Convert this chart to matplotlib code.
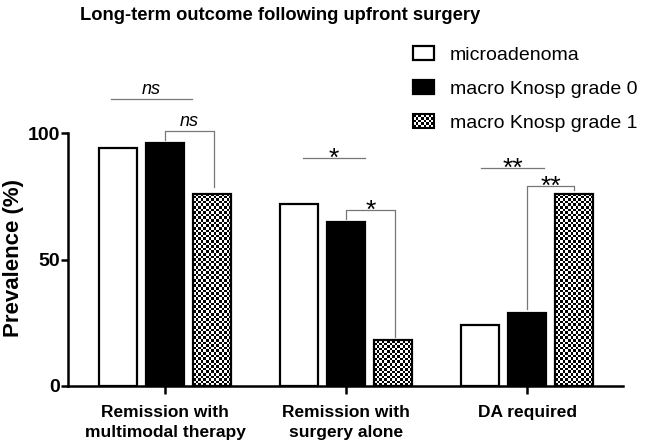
import numpy as np
import matplotlib
matplotlib.use('Agg')
import matplotlib.pyplot as plt
from matplotlib.patches import Rectangle
from matplotlib.legend_handler import HandlerBase

plt.rcParams['font.family'] = ['Liberation Sans', 'DejaVu Sans']

# data
categories = ['Remission with\nmultimodal therapy', 'Remission with\nsurgery alone', 'DA required']
series_names = ['microadenoma', 'macro Knosp grade 0', 'macro Knosp grade 1']
microadenoma = [94, 72, 24]
knosp_grade0 = [96, 65, 29]
knosp_grade1 = [76, 18, 76]
yticks = [0, 50, 100]
sig_micro_vs_grade0 = ['ns', '*', '**']
sig_grade0_vs_grade1 = ['ns', '*', '**']

# annotation layout (offsets from group centre, heights in %)
top_spans = [(-0.30, 0.15, 113.4), (-0.24, 0.105, 90.1), (-0.254, 0.094, 86.2)]
brackets = [(0.0, 0.27, 100.9, 97.2, 78.7),
            (0.0, 0.27, 69.6, 66.0, 19.4),
            (0.0, 0.26, 79.0, 30.4, 77.5)]

CELL_PX = 2.6
W = 0.21
OFF = 0.26
ANN_GREY = '#777777'


def checker_fill(ax, patch):
    x0, y0 = patch.get_x(), patch.get_y()
    x1, y1 = x0 + patch.get_width(), y0 + patch.get_height()
    p0 = ax.transData.transform((x0, y0))
    p1 = ax.transData.transform((x1, y1))
    nx = max(1, int(round(abs(p1[0] - p0[0]) / CELL_PX)))
    ny = max(1, int(round(abs(p1[1] - p0[1]) / CELL_PX)))
    board = np.indices((ny, nx)).sum(axis=0) % 2
    im = ax.imshow(board, cmap='gray', extent=[x0, x1, y0, y1], origin='lower',
                   interpolation='nearest', aspect='auto', zorder=1.5)
    im.set_clip_path(patch)


class CheckerHandler(HandlerBase):
    def create_artists(self, legend, orig_handle, xdescent, ydescent,
                       width, height, fontsize, trans):
        arts = []
        nx, ny = 8, 5
        cw, ch = width / nx, height / ny
        for i in range(nx):
            for j in range(ny):
                if (i + j) % 2 == 0:
                    arts.append(Rectangle((-xdescent + i * cw, -ydescent + j * ch), cw, ch,
                                          facecolor='black', edgecolor='none', transform=trans))
        arts.append(Rectangle((-xdescent, -ydescent), width, height, facecolor='none',
                              edgecolor='black', lw=1.5, transform=trans))
        return arts


def sig_text(ax, xc, y, label):
    if label == 'ns':
        ax.text(xc, y + 0.5, label, ha='center', va='bottom', style='italic', fontsize=13)
    else:
        ax.text(xc, y - 3.0, label, ha='center', va='baseline', fontsize=19)


fig = plt.figure(figsize=(6.45, 4.45), dpi=100)
ax = fig.add_axes([68 / 645, 59 / 445, 555 / 645, 316 / 445])
ax.set_xlim(-0.536, 2.530)
ax.set_ylim(0, 125)

x = np.arange(len(categories))
b1 = ax.bar(x - OFF, microadenoma, W, facecolor='white', edgecolor='black', lw=1.6,
            label=series_names[0], zorder=2)
b2 = ax.bar(x, knosp_grade0, W, facecolor='black', edgecolor='black', lw=1.6,
            label=series_names[1], zorder=2)
b3 = ax.bar(x + OFF, knosp_grade1, W, facecolor='none', edgecolor='black', lw=1.6,
            label=series_names[2], zorder=2)
for p in b3.patches:
    checker_fill(ax, p)
ax.set_xlim(-0.536, 2.530)
ax.set_ylim(0, 125)

# significance marks
for g in range(len(categories)):
    a, b, y = top_spans[g]
    ax.plot([g + a, g + b], [y, y], color=ANN_GREY, lw=0.9, zorder=3)
    sig_text(ax, g + (a + b) / 2, y, sig_micro_vs_grade0[g])

    l, r, top, lb, rb = brackets[g]
    ax.plot([g + l, g + l, g + r, g + r], [lb, top, top, rb], color=ANN_GREY, lw=0.9, zorder=3)
    sig_text(ax, g + (l + r) / 2, top, sig_grade0_vs_grade1[g])

for s in ['top', 'right']:
    ax.spines[s].set_visible(False)
ax.spines['left'].set_bounds(0, 100)
ax.spines['left'].set_linewidth(1.8)
ax.spines['bottom'].set_linewidth(1.8)
ax.set_yticks(yticks)
ax.set_yticklabels([str(v) for v in yticks], fontsize=14, fontweight='bold')
ax.set_xticks(x)
ax.set_xticklabels(categories, fontsize=12.5, fontweight='bold', linespacing=1.4)
ax.tick_params(axis='y', length=5, width=1.8, pad=1)
ax.tick_params(axis='x', length=6, width=1.8, pad=8)

fig.text(280 / 645, 1 - 15 / 445, 'Long-term outcome following upfront surgery',
         ha='center', va='center', fontsize=13.2, fontweight='bold')
fig.text(14 / 645, 1 - 258 / 445, 'Prevalence (%)', rotation=90,
         ha='center', va='center', fontsize=16, fontweight='bold')

fig.legend(handles=[b1, b2, b3], labels=series_names,
           handler_map={b3: CheckerHandler()},
           loc='upper left', bbox_to_anchor=(413 / 645, 1 - 46 / 445),
           frameon=False, fontsize=14, borderpad=0, borderaxespad=0,
           handlelength=1.08, handleheight=0.7, handletextpad=0.8, labelspacing=0.85)

fig.savefig('out.png', dpi=100)
